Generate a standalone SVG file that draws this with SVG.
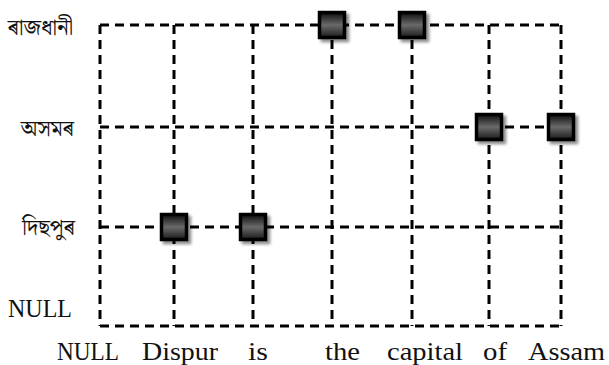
<svg xmlns="http://www.w3.org/2000/svg" width="609" height="365" viewBox="0 0 609 365">
  <defs>
    <linearGradient id="cellFill" x1="0" y1="0" x2="0" y2="1">
      <stop offset="0" stop-color="#0e0e0e"/>
      <stop offset="0.5" stop-color="#6a6a6a"/>
      <stop offset="1" stop-color="#1a1a1a"/>
    </linearGradient>
    <filter id="shadow" x="-30%" y="-30%" width="160%" height="160%">
      <feGaussianBlur in="SourceAlpha" stdDeviation="1.5"/>
      <feOffset dx="3" dy="3" result="b"/>
      <feComponentTransfer><feFuncA type="linear" slope="0.45"/></feComponentTransfer>
      <feMerge><feMergeNode/><feMergeNode in="SourceGraphic"/></feMerge>
    </filter>
    <symbol id="cell" overflow="visible">
      <rect x="-12.5" y="-12.5" width="25" height="25" fill="url(#cellFill)" stroke="#000" stroke-width="3.5" filter="url(#shadow)"/>
    </symbol>
  </defs>
  <style>
    .grid line { stroke: #000; stroke-width: 3; stroke-dasharray: 9 6; fill: none; }
    .lbl { font-family: "Liberation Serif", "DejaVu Serif", serif; font-size: 26px; fill: #111; }
    .bn { font-family: "Noto Serif Bengali", "Noto Sans Bengali", "Lohit Assamese", "Noto Sans", serif; font-size: 22px; fill: #111; }
  </style>

  <!-- dashed lattice -->
  <g id="connectors" class="grid">
    <line x1="100" y1="25" x2="561" y2="25"/>
    <line x1="100" y1="127" x2="561" y2="127"/>
    <line x1="100" y1="227" x2="561" y2="227"/>
    <line x1="100" y1="326" x2="561" y2="326"/>
    <line x1="100" y1="25" x2="100" y2="326"/>
    <line x1="174" y1="25" x2="174" y2="326"/>
    <line x1="253" y1="25" x2="253" y2="326"/>
    <line x1="332" y1="25" x2="332" y2="326"/>
    <line x1="412" y1="25" x2="412" y2="326"/>
    <line x1="489" y1="25" x2="489" y2="326"/>
    <line x1="561" y1="25" x2="561" y2="326"/>
  </g>

  <!-- active cells -->
  <g id="cell-dispur"><use href="#cell" x="174" y="227"/></g>
  <g id="cell-is"><use href="#cell" x="253" y="227"/></g>
  <g id="cell-the"><use href="#cell" x="332" y="25"/></g>
  <g id="cell-capital"><use href="#cell" x="412" y="25"/></g>
  <g id="cell-of"><use href="#cell" x="489" y="127"/></g>
  <g id="cell-assam"><use href="#cell" x="561" y="127"/></g>

  <!-- row labels -->
  <g id="row-labels">
    <text class="bn" x="73" y="35" text-anchor="end">ৰাজধানী</text>
    <text class="bn" x="74" y="136" text-anchor="end">অসমৰ</text>
    <text class="bn" x="75" y="235" text-anchor="end">দিছপুৰ</text>
    <text class="lbl" x="8" y="317" textLength="64" lengthAdjust="spacingAndGlyphs">NULL</text>
  </g>

  <!-- column labels -->
  <g id="col-labels">
    <text class="lbl" x="57" y="360" textLength="62" lengthAdjust="spacingAndGlyphs">NULL</text>
    <text class="lbl" x="142" y="360" textLength="76" lengthAdjust="spacingAndGlyphs">Dispur</text>
    <text class="lbl" x="248" y="360" textLength="20" lengthAdjust="spacingAndGlyphs">is</text>
    <text class="lbl" x="325" y="360" textLength="35" lengthAdjust="spacingAndGlyphs">the</text>
    <text class="lbl" x="387" y="360" textLength="76" lengthAdjust="spacingAndGlyphs">capital</text>
    <text class="lbl" x="483" y="360" textLength="24" lengthAdjust="spacingAndGlyphs">of</text>
    <text class="lbl" x="528" y="360" textLength="77" lengthAdjust="spacingAndGlyphs">Assam</text>
  </g>
</svg>
